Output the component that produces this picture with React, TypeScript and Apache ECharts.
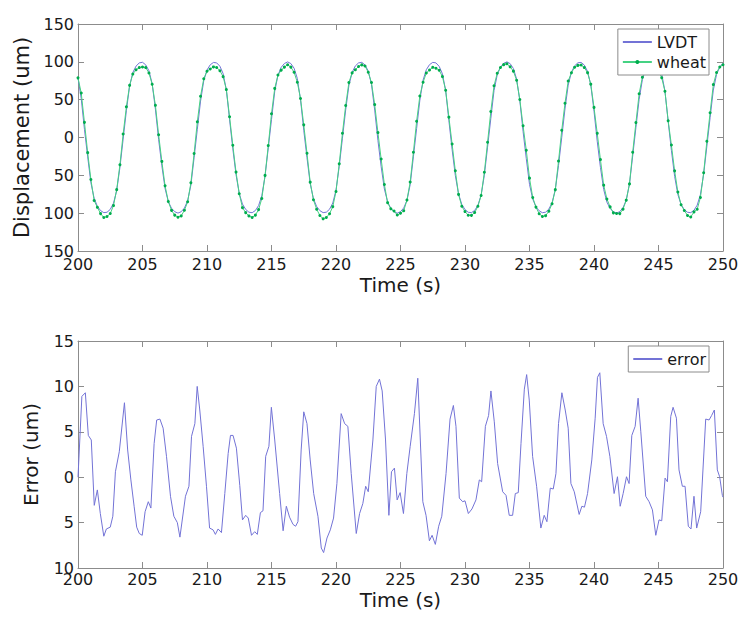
import React, { useEffect, useRef } from "react";
import * as echarts from "echarts";

// sampling of the displacement traces (s)
const T0 = 200;
const DT = 0.25;

const lvdt = [
  78.8, 51.4, 10.8, -25.6, -59.8, -80.2, -90.9, -96.6, -99.3, -98.8,
  -95.0, -86.9, -70.2, -39.5, -2.1, 35.4, 67.9, 85.8, 94.4, 98.6,
  99.4, 96.0, 88.2, 71.0, 37.5, -2.8, -37.4, -67.4, -84.8, -93.5,
  -98.1, -99.9, -98.1, -93.2, -83.5, -63.0, -26.8, 10.8, 48.1, 75.1,
  89.2, 96.1, 99.2, 98.6, 94.2, 84.4, 63.1, 23.6, -14.8, -49.1,
  -74.1, -88.0, -95.1, -98.7, -99.4, -96.5, -90.0, -76.8, -51.0, -13.9,
  23.8, 60.8, 82.3, 92.7, 97.8, 99.9, 97.7, 91.6, 78.1, 50.1,
  9.5, -26.7, -60.9, -80.8, -91.2, -96.7, -99.3, -98.7, -94.8, -86.6,
  -69.6, -38.3, -0.9, 36.5, 68.6, 86.1, 94.6, 98.6, 99.3, 95.9,
  87.8, 70.2, 36.2, -3.9, -38.5, -68.1, -85.1, -93.7, -98.1, -100,
  -98.0, -93.1, -83.2, -62.3, -25.6, 12.0, 49.3, 75.8, 89.6, 96.3,
  99.3, 98.6, 94.0, 84.1, 62.4, 22.3, -15.9, -50.2, -74.7, -88.3,
  -95.3, -98.8, -99.3, -96.4, -89.7, -76.1, -49.9, -12.7, 25.0, 62.0,
  83.0, 93.0, 98.0, 100, 97.6, 91.2, 77.4, 48.8, 8.2, -27.8,
  -62.0, -81.4, -91.5, -96.9, -99.4, -98.7, -94.6, -86.3, -68.9, -37.1,
  0.3, 37.7, 69.2, 86.4, 94.7, 98.7, 99.3, 95.7, 87.5, 69.5,
  34.9, -5.0, -39.6, -68.7, -85.4, -93.8, -98.2, -100, -97.9, -92.8,
  -82.7, -61.4, -24.4, 13.3, 50.5, 76.4, 89.9, 96.4, 99.4, 98.5,
  93.8, 83.7, 61.4, 21.0, -17.0, -51.3, -75.4, -88.6, -95.4, -98.8,
  -99.3, -96.2, -89.4, -75.4, -48.7, -11.4, 26.2, 62.7, 83.3, 93.2,
  98.1,
];

const wheat = [
  78.8, 58.8, 20.0, -20.0, -55.6, -83.2, -92.3, -100.6, -105.8, -104.5,
  -100.5, -90.0, -68.9, -36.0, 4.7, 40.5, 68.9, 83.8, 89.5, 92.4,
  93.2, 92.4, 85.3, 70.4, 42.5, 3.6, -31.6, -63.8, -84.5, -96.3,
  -102.6, -105.3, -103.6, -96.2, -85.0, -59.9, -21.2, 20.7, 54.6, 77.7,
  87.5, 90.5, 93.3, 92.6, 88.3, 80.4, 63.3, 27.4, -10.2, -45.7,
  -74.4, -92.7, -99.3, -103.6, -105.7, -102.6, -95.3, -80.6, -50.1, -10.7,
  31.4, 64.9, 82.5, 89.0, 93.0, 96.2, 93.0, 86.3, 73.1, 51.5,
  16.7, -20.8, -59.0, -82.3, -94.8, -103.0, -107.5, -105.7, -100.8, -91.4,
  -71.3, -34.8, 5.7, 42.3, 72.6, 85.4, 89.6, 93.9, 96.0, 94.5,
  86.2, 72.6, 43.5, 6.5, -28.5, -62.1, -86.1, -94.3, -97.2, -102.5,
  -100.1, -96.8, -82.7, -58.9, -19.5, 21.5, 54.9, 73.0, 85.2, 89.3,
  92.7, 91.6, 88.8, 80.5, 62.4, 26.9, -8.6, -44.0, -75.2, -90.9,
  -97.9, -102.7, -102.9, -99.2, -90.9, -76.6, -46.0, -6.3, 34.4, 68.4,
  85.0, 92.6, 96.3, 97.4, 93.4, 87.7, 75.6, 50.2, 15.6, -16.8,
  -53.7, -79.2, -92.0, -100.7, -104.4, -103.3, -97.4, -87.6, -68.9, -31.2,
  9.6, 45.2, 74.6, 85.6, 92.9, 95.3, 95.8, 92.4, 85.7, 70.5,
  39.8, 5.5, -29.2, -63.0, -81.2, -91.7, -99.6, -100.5, -100.6, -94.7,
  -82.8, -61.3, -19.5, 19.7, 57.9, 79.6, 87.9, 93.7, 95.9, 92.5,
  88.8, 78.9, 61.1, 22.1, -10.0, -44.1, -72.0, -88.9, -96.4, -103.1,
  -105.0, -98.3, -94.8, -79.3, -46.5, -5.0, 32.7, 69.9, 85.9, 93.2,
  96.1,
];

// [time (s), error (um)]
const errorPoints: [number, number][] = [
  [200.0, 0], [200.3, 8.9], [200.57, 9.3], [200.8, 4.6], [201.03, 4.1], [201.26, -3.1],
  [201.5, -1.4], [201.73, -4.0], [202.0, -6.5], [202.2, -5.7], [202.5, -5.5], [202.7, -4.3],
  [202.9, 0.6], [203.2, 2.8], [203.6, 8.2], [203.85, 3.0], [204.1, -0.3], [204.35, -3.2],
  [204.55, -5.5], [204.75, -6.2], [204.98, -6.4], [205.2, -3.8], [205.45, -2.7], [205.65, -3.4],
  [205.9, 3.7], [206.1, 6.3], [206.35, 6.4], [206.6, 5.4], [206.86, 2.3], [207.17, -2.1],
  [207.43, -4.3], [207.7, -5.0], [207.9, -6.6], [208.33, -2.1], [208.6, -1.0], [208.8, 4.5],
  [209.06, 5.9], [209.24, 10.0], [209.44, 7.4], [209.7, 3.4], [209.96, -1.0], [210.2, -5.6],
  [210.47, -5.8], [210.65, -6.3], [210.86, -5.7], [211.12, -6.1], [211.38, -1.8], [211.64, 2.6],
  [211.82, 4.6], [212.02, 4.6], [212.28, 3.2], [212.54, -0.9], [212.75, -4.7], [213.0, -4.2],
  [213.2, -4.5], [213.45, -6.4], [213.7, -6.0], [213.9, -6.3], [214.14, -3.9], [214.34, -3.7],
  [214.55, 2.3], [214.8, 3.4], [214.99, 7.7], [215.25, 4.1], [215.63, -1.8], [215.9, -5.9],
  [216.15, -3.2], [216.4, -4.4], [216.67, -5.2], [216.87, -5.4], [217.05, -4.9], [217.3, 3.0],
  [217.5, 7.2], [217.75, 5.9], [218.0, 1.9], [218.27, -1.8], [218.6, -4.3], [218.86, -7.8],
  [219.04, -8.3], [219.3, -6.7], [219.56, -5.8], [219.81, -4.5], [220.07, -0.7], [220.4, 7.0],
  [220.67, 5.9], [220.92, 5.6], [221.18, 0.4], [221.57, -6.2], [221.83, -4.0], [222.08, -2.9],
  [222.3, -1.0], [222.5, -1.6], [222.86, 4.1], [223.12, 10.0], [223.37, 10.8], [223.58, 9.5],
  [223.84, 4.1], [224.1, -4.2], [224.3, 0.6], [224.53, 1.0], [224.74, -2.5], [224.97, -1.7],
  [225.23, -4.0], [225.49, 0.4], [225.75, 3.4], [226.08, 7.0], [226.34, 10.9], [226.73, -2.7],
  [226.98, -4.2], [227.24, -7.0], [227.45, -6.4], [227.7, -7.4], [227.96, -5.4], [228.2, -4.3],
  [228.53, 0.4], [228.84, 6.4], [229.1, 7.9], [229.3, 5.6], [229.56, -2.3], [229.82, -2.7],
  [230.0, -2.6], [230.26, -4.0], [230.54, -3.5], [230.85, -2.5], [231.11, -0.3], [231.29, -0.5],
  [231.58, 5.6], [231.83, 6.8], [232.01, 9.5], [232.27, 6.1], [232.53, 1.5], [232.92, -1.6],
  [233.18, -2.0], [233.43, -4.2], [233.69, -4.2], [233.9, -1.8], [234.13, -1.7], [234.34, 3.7],
  [234.6, 9.7], [234.78, 11.3], [234.98, 8.5], [235.24, 2.3], [235.55, -1.0], [235.88, -5.6],
  [236.14, -4.2], [236.35, -4.9], [236.61, -1.2], [236.84, -1.3], [237.05, 0.4], [237.25, 5.9],
  [237.51, 9.3], [237.77, 7.4], [238.0, 5.4], [238.21, -0.7], [238.47, -1.6], [238.85, -4.1],
  [239.06, -3.2], [239.26, -3.3], [239.5, -1.8], [239.83, 1.9], [240.09, 6.5], [240.27, 11.0],
  [240.45, 11.5], [240.71, 5.9], [240.97, 4.5], [241.23, 2.3], [241.56, -1.8], [241.82, 0.05],
  [242.03, -3.2], [242.26, -1.8], [242.52, 0.05], [242.72, -0.7], [242.93, 4.6], [243.19, 5.6],
  [243.42, 8.7], [243.63, 5.0], [244.01, -2.1], [244.27, -2.7], [244.53, -3.6], [244.79, -6.4],
  [245.04, -4.7], [245.25, -4.8], [245.51, -0.1], [245.69, -0.5], [245.95, 6.7], [246.13, 7.7],
  [246.39, 6.5], [246.59, 0.8], [246.85, -1.0], [247.06, -1.0], [247.31, -5.4], [247.52, -5.7],
  [247.75, -2.1], [247.96, -5.6], [248.27, -3.8], [248.66, 6.4], [248.92, 6.3], [249.12, 6.8],
  [249.33, 7.4], [249.56, 0.8], [249.74, 0.05], [249.95, -2.0], [250.0, -2.2],
];

const seriesNames = ["LVDT", "wheat", "error"];
const xLabel = "Time (s)";
const yLabelTop = "Displacement (um)";
const yLabelBottom = "Error (um)";

const FONT = "DejaVu Sans";
const AXIS = "#8c8c8c";
const TEXT = "#1a1a1a";
const BLUE = "#7373d6";
const GREEN_LINE = "#45d283";
const GREEN_DOT = "#00ad4e";

export default function App() {
  const ref = useRef<HTMLDivElement>(null);

  useEffect(() => {
    const chart = echarts.init(ref.current!, null, { renderer: "svg" });

    const tick = { show: true, inside: true, length: 6, lineStyle: { color: AXIS, width: 1 } };
    const line = { show: true, onZero: false, lineStyle: { color: AXIS, width: 1 } };
    const absFmt = (v: number) => String(Math.abs(v));

    const xMain = (gridIndex: number, margin: number, gap: number) => ({
      type: "value",
      gridIndex,
      min: 200,
      max: 250,
      interval: 5,
      position: "bottom",
      axisLine: line,
      axisTick: tick,
      splitLine: { show: false },
      axisLabel: {
        show: true,
        margin,
        showMinLabel: true,
        showMaxLabel: true,
        fontFamily: FONT,
        fontSize: 16,
        color: TEXT,
      },
      name: xLabel,
      nameLocation: "middle",
      nameGap: gap,
      nameTextStyle: { fontFamily: FONT, fontSize: 20, color: TEXT, verticalAlign: "top" },
    });
    const xTop = (gridIndex: number) => ({
      type: "value",
      gridIndex,
      min: 200,
      max: 250,
      interval: 5,
      position: "top",
      axisLine: line,
      axisTick: tick,
      axisLabel: { show: false },
      splitLine: { show: false },
    });
    const yMain = (gridIndex: number, min: number, max: number, interval: number, name: string, gap: number, size: number) => ({
      type: "value",
      gridIndex,
      min,
      max,
      interval,
      position: "left",
      axisLine: line,
      axisTick: tick,
      splitLine: { show: false },
      axisLabel: {
        show: true,
        margin: 4,
        showMinLabel: true,
        showMaxLabel: true,
        formatter: absFmt,
        fontFamily: FONT,
        fontSize: 16,
        color: TEXT,
      },
      name,
      nameLocation: "middle",
      nameGap: gap,
      nameTextStyle: { fontFamily: FONT, fontSize: size, color: TEXT },
    });
    const yRight = (gridIndex: number, min: number, max: number, interval: number) => ({
      type: "value",
      gridIndex,
      min,
      max,
      interval,
      position: "right",
      axisLine: line,
      axisTick: tick,
      axisLabel: { show: false },
      splitLine: { show: false },
    });

    const legendBase = {
      orient: "vertical",
      right: 41,
      backgroundColor: "#ffffff",
      borderColor: AXIS,
      borderWidth: 1,
      borderRadius: 0,
      padding: [4, 3, 4, 4],
      itemWidth: 29,
      itemHeight: 5,
      itemGap: 2,
      textStyle: { fontFamily: FONT, fontSize: 16, color: TEXT, lineHeight: 18 },
    };
    const noDot = { color: "rgba(0,0,0,0)", borderWidth: 0, opacity: 0 };

    chart.setOption({
      animation: false,
      backgroundColor: "#ffffff",
      grid: [
        { left: 78, top: 24, width: 645, height: 227 },
        { left: 78, top: 341, width: 645, height: 227 },
      ],
      xAxis: [xMain(0, 5, 24), xTop(0), xMain(1, 3, 22), xTop(1)],
      yAxis: [
        yMain(0, -150, 150, 50, yLabelTop, 46, 21),
        yRight(0, -150, 150, 50),
        yMain(1, -10, 15, 5, yLabelBottom, 37, 20),
        yRight(1, -10, 15, 5),
      ],
      legend: [
        {
          ...legendBase,
          top: 29,
          data: [{ name: seriesNames[0], itemStyle: noDot }, { name: seriesNames[1] }],
        },
        { ...legendBase, top: 346, data: [{ name: seriesNames[2], itemStyle: noDot }] },
      ],
      series: [
        {
          name: seriesNames[0],
          type: "line",
          xAxisIndex: 0,
          yAxisIndex: 0,
          data: lvdt.map((v, i) => [T0 + i * DT, v]),
          symbol: "none",
          lineStyle: { color: BLUE, width: 1 },
          itemStyle: { color: BLUE },
          z: 2,
        },
        {
          name: seriesNames[1],
          type: "line",
          xAxisIndex: 0,
          yAxisIndex: 0,
          data: wheat.map((v, i) => [T0 + i * DT, v]),
          symbol: "circle",
          symbolSize: 3,
          showSymbol: true,
          showAllSymbol: true,
          lineStyle: { color: GREEN_LINE, width: 1 },
          itemStyle: { color: GREEN_DOT, borderWidth: 0 },
          z: 3,
        },
        {
          name: seriesNames[2],
          type: "line",
          xAxisIndex: 2,
          yAxisIndex: 2,
          data: errorPoints,
          symbol: "none",
          lineStyle: { color: BLUE, width: 1 },
          itemStyle: { color: BLUE },
        },
      ],
    });

    return () => chart.dispose();
  }, []);

  return (
    <div
      ref={ref}
      style={{ position: "fixed", left: 0, top: 0, width: 750, height: 626, background: "#ffffff" }}
    />
  );
}
